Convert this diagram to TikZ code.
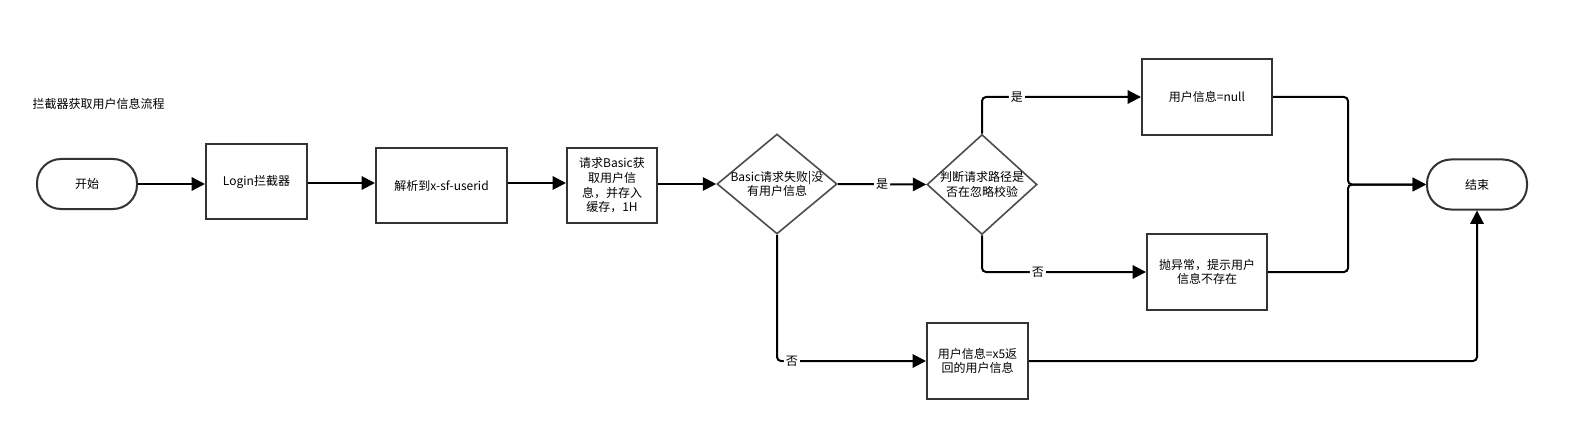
\documentclass[tikz,border=0pt]{standalone}
\usepackage{fontspec}
\setmainfont{Noto Sans CJK SC}
\usetikzlibrary{arrows.meta,shapes.geometric}

\begin{document}
\begin{tikzpicture}[x=0.75pt,y=-0.75pt,
        font=\fontsize{9}{11}\selectfont,
        terminal/.style={draw=black!80,line width=1.5pt,rounded corners=18pt,minimum width=75pt,minimum height=37.5pt,inner sep=0pt},
        process/.style={draw=black!80,line width=1.5pt,minimum height=56.5pt,align=center,inner sep=0pt},
        decision/.style={draw=black!70,line width=1.2pt,diamond,inner sep=0pt,minimum height=75pt},
        flow/.style={line width=1.5pt,rounded corners=3pt,-{Triangle[length=10pt,width=10pt]}},
        branch/.style={fill=white,inner sep=1.5pt}]
        \useasboundingbox (0,0) rectangle (1573,431);

        \node[anchor=west] (title) at (28,104) {拦截器获取用户信息流程};

        \node[terminal] (start) at (87,184) {开始};
        \node[process, minimum width=75.75pt] (login) at (256.5,181.5) {Login拦截器};
        \node[process, minimum width=98.25pt] (parse) at (441.5,185.5) {解析到x-sf-userid};
        \node[process, minimum width=67.5pt] (basic) at (612,185.5) {请求Basic获\\取用户信\\息，并存入\\缓存，1H};
        \node[decision, minimum width=90pt] (failed) at (777,184) {};
        \node[align=center] (failedtext) at (failed) {Basic请求失败|没\\有用户信息};
        \node[decision, minimum width=82.5pt] (ignore) at (982,184.5) {};
        \node[align=center] (ignoretext) at (ignore) {判断请求路径是\\否在忽略校验};
        \node[process, minimum width=97.5pt] (nulluser) at (1207,97) {用户信息=null};
        \node[process, minimum width=90pt] (throw) at (1207,272) {抛异常，提示用户\\信息不存在};
        \node[process, minimum width=75.75pt] (x5user) at (977.5,361) {用户信息=x5返\\回的用户信息};
        \node[terminal] (end) at (1477,184.5) {结束};
        \coordinate (merge) at (1348,184.5);

        \draw[flow] (start.east) -- (start.east -| login.west);
        \draw[flow] (login.east |- 0,183) -- (parse.west |- 0,183);
        \draw[flow] (parse.east |- 0,183) -- (basic.west |- 0,183);
        \draw[flow] (basic.east |- failed.west) -- (failed.west);
        \draw[flow] (failed.east) -- node[branch] {是} (ignore.west);
        \draw[flow] (ignore.north) |- node[branch, pos=0.61] {是} (nulluser.west);
        \draw[flow] (ignore.south) |- node[branch, pos=0.67] {否} (throw.west);
        \draw[flow] (failed.south) |- node[branch, pos=0.55] {否} (x5user.west);
        \draw[flow] (nulluser.east) -| (merge) -- (end.west);
        \draw[flow] (throw.east) -| (merge) -- (end.west);
        \draw[flow] (x5user.east) -| (end.south);
\end{tikzpicture}
\end{document}
